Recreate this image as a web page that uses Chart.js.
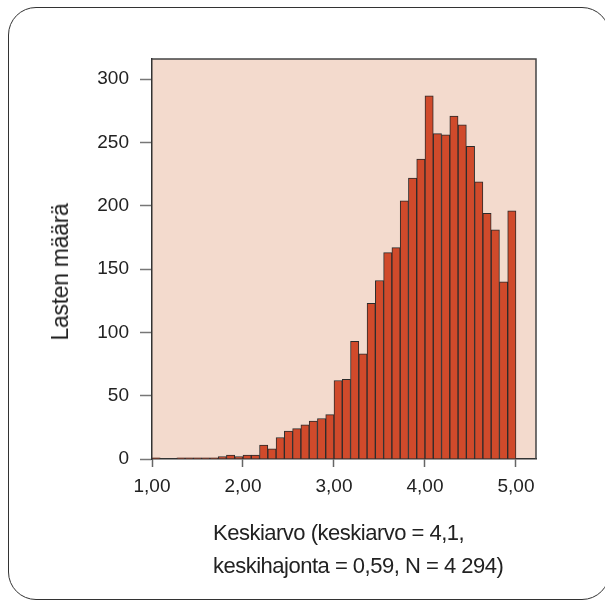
<!DOCTYPE html>
<html>
<head>
<meta charset="utf-8">
<script src="https://cdn.jsdelivr.net/npm/chart.js@4/dist/chart.umd.min.js"></script>
<style>
    html, body { margin: 0; padding: 0; background: #fff; overflow: hidden; }
    #page { width: 605px; height: 601px; position: relative; overflow: hidden; }
    #frame {
        position: absolute; left: 8px; top: 7px; width: 602px; height: 593px;
        border: 1.5px solid #333; border-radius: 28px; box-sizing: border-box;
    }
    #chart { position: absolute; left: 0; top: 0; }
    .title {
        position: absolute; font-family: "Liberation Sans", Arial, sans-serif;
        color: #222; white-space: nowrap;
    }
    #xtitle { left: 213px; top: 516px; font-size: 22px; line-height: 33px; letter-spacing: -0.5px; }
    #ytitle {
        left: 60px; top: 272px; font-size: 23px; line-height: 24px; letter-spacing: -0.3px;
        transform: translate(-50%, -50%) rotate(-90deg);
    }
</style>
</head>
<body>
<div id="page">
<div id="frame"></div>
<canvas id="chart" width="605" height="601"></canvas>
<div id="xtitle" class="title">Keskiarvo (keskiarvo = 4,1,<br>keskihajonta = 0,59, N = 4 294)</div>
<div id="ytitle" class="title">Lasten määrä</div>
</div>
<script>
// histogram of child mean scores, 11 bins per scale unit (1,00 ... 5,00)
const scoreMin = 1
const binWidth = 1 / 11
const counts = [
    1, 0, 0, 1, 1, 1, 1, 1, 2, 3, 2,
    3, 3, 11, 8, 17, 22, 24, 27, 30, 32, 35,
    62, 63, 93, 83, 123, 141, 163, 167, 204, 222, 237,
    287, 257, 256, 271, 264, 247, 219, 194, 181, 140, 196
]
const xTicks = [1, 2, 3, 4, 5]
const yTicks = [0, 50, 100, 150, 200, 250, 300]

const binCenters = counts.map((c, i) => scoreMin + (i + 0.5) * binWidth)

const plotBackground = {
    id: 'plotBackground',
    beforeDraw(chart) {
        const { ctx, chartArea } = chart
        ctx.save()
        ctx.fillStyle = '#f3dacd'
        ctx.fillRect(chartArea.left, chartArea.top, chartArea.width, chartArea.height)
        ctx.restore()
    },
    afterDraw(chart) {
        const { ctx, chartArea } = chart
        ctx.save()
        ctx.strokeStyle = '#444'
        ctx.lineWidth = 1.5
        ctx.beginPath()
        ctx.moveTo(chartArea.left, chartArea.top)
        ctx.lineTo(chartArea.right, chartArea.top)
        ctx.lineTo(chartArea.right, chartArea.bottom)
        ctx.stroke()
        ctx.restore()
    }
}

const tickFont = { family: '"Liberation Sans", Arial, sans-serif', size: 19 }

new Chart(document.querySelector('#chart').getContext('2d'), {
    type: 'bar',
    data: {
        datasets: [{
            data: binCenters.map((x, i) => ({ x: x, y: counts[i] })),
            backgroundColor: '#d04a2b',
            borderColor: '#2b2b2b',
            borderWidth: 1,
            barPercentage: 1,
            categoryPercentage: 1
        }]
    },
    options: {
        responsive: false,
        animation: false,
        layout: { padding: { top: 59, right: 69, bottom: 0, left: 0 } },
        plugins: { legend: { display: false }, tooltip: { enabled: false } },
        scales: {
            x: {
                type: 'linear',
                min: 1,
                max: 5.22,
                offset: false,
                afterBuildTicks: scale => { scale.ticks = xTicks.map(v => ({ value: v })) },
                afterFit: scale => { scale.height = 142 },
                ticks: {
                    font: tickFont,
                    color: '#222',
                    padding: 8,
                    maxRotation: 0,
                    callback: v => v.toFixed(2).replace('.', ',')
                },
                grid: { offset: false, drawOnChartArea: false, tickLength: 8, tickColor: '#666', tickWidth: 1.5 },
                border: { display: true, color: '#333', width: 1.5 }
            },
            y: {
                min: 0,
                max: 316,
                afterBuildTicks: scale => { scale.ticks = yTicks.map(v => ({ value: v })) },
                afterFit: scale => { scale.width = 152 },
                ticks: { font: tickFont, color: '#222', padding: 11 },
                grid: { drawOnChartArea: false, tickLength: 12, tickColor: '#777', tickWidth: 1.5 },
                border: { display: true, color: '#333', width: 1.5 }
            }
        }
    },
    plugins: [plotBackground]
})
</script>
</body>
</html>
